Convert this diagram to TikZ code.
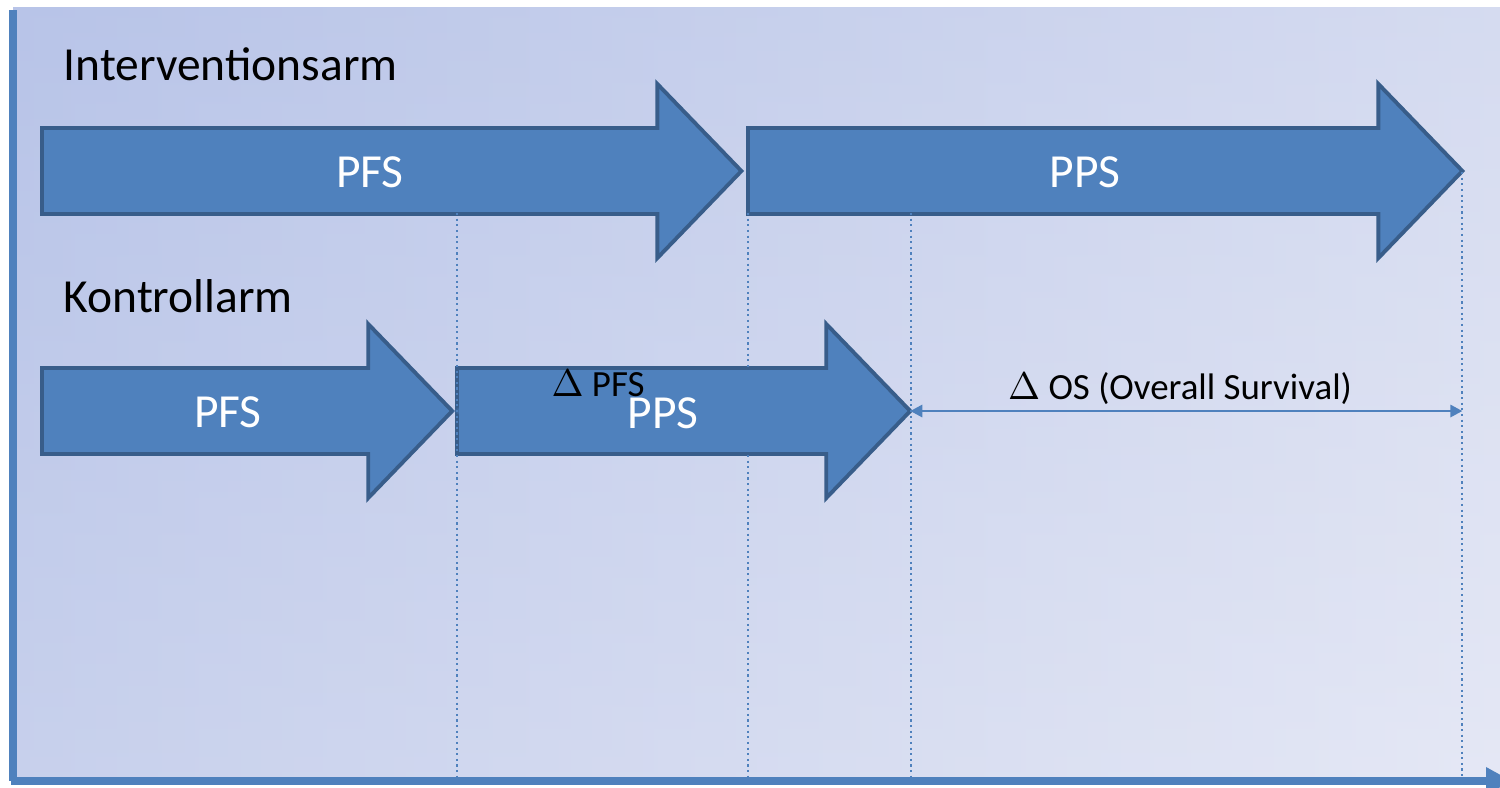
\documentclass[tikz,border=0pt]{standalone}
\usepackage{fontspec}
\setmainfont{Carlito}
\usetikzlibrary{shapes.arrows,arrows.meta}

\definecolor{armfill}{RGB}{79,129,189}
\definecolor{armline}{RGB}{56,93,138}
\definecolor{bgleft}{RGB}{184,196,232}
\definecolor{bgmid}{RGB}{208,214,239}
\definecolor{bgright}{RGB}{229,232,245}

\tikzset{
  blockarrow/.style={single arrow, draw=armline, fill=armfill, line width=1.1pt,
    minimum width=1.70cm, single arrow head extend=0.44cm,
    single arrow tip angle=92, inner xsep=0pt, inner ysep=0.41cm, outer sep=0pt},
  armtext/.style={text=white, font=\fontsize{13.5}{16}\selectfont},
  armlabel/.style={inner sep=0pt, font=\fontsize{13.5}{16}\selectfont},
  spantext/.style={font=\fontsize{10.5}{12}\selectfont},
  guide/.style={armfill, densely dotted, line width=0.6pt},
  spanline/.style={armfill, line width=0.8pt,
    {Triangle[length=0.12cm,width=0.12cm]}-{Triangle[length=0.12cm,width=0.12cm]}},
}

\begin{document}
\begin{tikzpicture}[x=0.01cm,y=-0.01cm]
	\useasboundingbox (0,0) rectangle (1500,787);
	\shade[left color=bgleft, middle color=bgmid, right color=bgright] (13,7) rectangle (1500,782);
	\shade[top color=bgleft, bottom color=bgright, opacity=0.35] (13,7) rectangle (1500,782);
	% time axes
	\draw[armfill, line width=2pt] (13,10) -- (13,781);
	\draw[armfill, line width=2.2pt, -{Triangle[length=0.26cm,width=0.26cm]}] (11,781) -- (1512,781);
	% intervention arm
	\node[armlabel, anchor=base west] (iarm) at (63,80) {Interventionsarm};
	\node[blockarrow, minimum height=6.99cm, anchor=tail] (ipfs) at (42,171) {};
	\node[blockarrow, minimum height=7.14cm, anchor=tail] (ipps) at (748,171) {};
	% control arm
	\node[armlabel, anchor=base west] (karm) at (63,312) {Kontrollarm};
	\node[blockarrow, minimum height=4.10cm, anchor=tail] (kpfs) at (42,411) {};
	\node[blockarrow, minimum height=4.53cm, anchor=tail] (kpps) at (457,411) {};
	% guide lines down to the axis
	\foreach \x/\y in {457/213, 748/213, 911/213, 1462/172}
		\draw[guide] (\x,\y) -- (\x,779);
	\draw[spanline, opacity=0.3] (kpfs.tip) -- (ipps.tail |- kpfs.tip);
	\draw[spanline] (kpps.tip) -- (ipps.tip |- kpps.tip);
	\node[armtext] (ipfstext) at (370,172) {PFS};
	\node[armtext] (ippstext) at (1085,172) {PPS};
	\node[armtext] (kpfstext) at (228,412) {PFS};
	\node[armtext] (kppstext) at (663,413) {PPS};
	\node[spantext] (dpfs) at (598,383) {$\Delta$ PFS};
	\node[spantext] (dos) at (1180,389) {$\Delta$ OS (Overall Survival)};
\end{tikzpicture}
\end{document}
